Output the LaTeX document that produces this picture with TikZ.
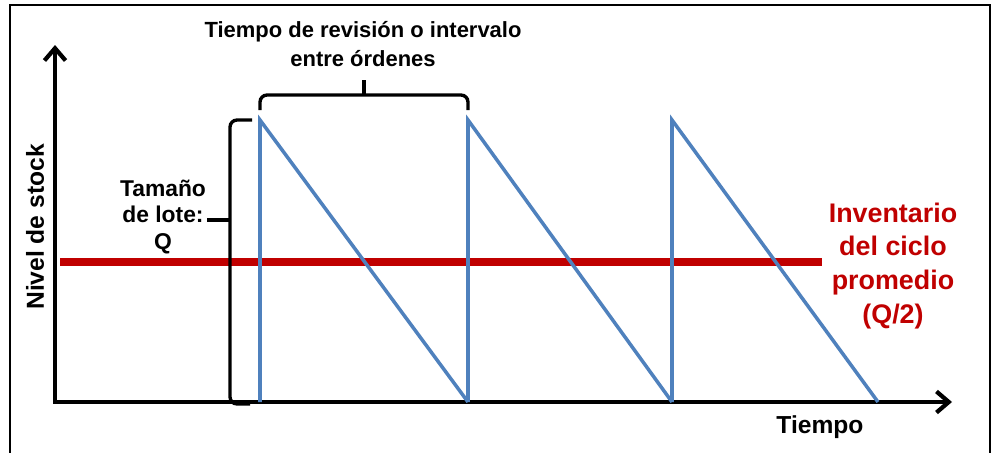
\documentclass[tikz,border=0pt]{standalone}
\usepackage{fontspec}
\setmainfont{Liberation Sans}
\usetikzlibrary{positioning, arrows.meta}
\definecolor{sawblue}{RGB}{79,129,189}
\definecolor{avgred}{RGB}{192,0,0}
\tikzset{
	axis/.style={draw, line width=2.4pt, line join=miter, {Straight Barb[length=7pt,width=12pt]}-{Straight Barb[length=7pt,width=12pt]}},
	saw/.style={draw=sawblue, line width=2pt},
	avgline/.style={draw=avgred, line width=4.5pt},
	bracket/.style={draw, line width=1.9pt, rounded corners=4pt},
	lbl/.style={align=center, inner sep=0pt}
}

\begin{document}
\begin{tikzpicture}[x=0.02cm, y=-0.02cm]
		\useasboundingbox (0,0) rectangle (991,453);
		\draw[line width=0.8pt] (10,460) -- (10,5) -- (990,5) -- (990,460);
		
		% axes
		\coordinate (ytop) at (55,45);
		\coordinate (O) at (55,402);
		\coordinate (xend) at (952,402);
		\draw[axis] (ytop) -- (O) -- (xend);
		
		% average cycle inventory
		\draw[avgline] (60,262) -- (822,262);
		
		% stock level
		\foreach \a/\b in {260/468, 468/672, 672/878}
			\draw[saw] (\a,402) -- (\a,120) -- (\b,402);
		
		% braces
		\draw[bracket] (260,110) -- (260,95) -- (468,95) -- (468,110);
		\draw[bracket] (364,95) -- (364,80);
		\draw[bracket] (252,120) -- (230,120) -- (230,404) -- (250,404);
		\draw[bracket] (230,220) -- (207,220);
		
		% labels
		\node[lbl, font=\bfseries\fontsize{12.5}{16}\selectfont] (revision) at (363,44) {Tiempo de revisión o intervalo\\entre órdenes};
		\node[lbl, font=\bfseries\fontsize{13}{15.3}\selectfont] (lote) at (163,217) {Tamaño\\de lote:\\Q};
		\node[lbl, font=\bfseries\fontsize{14}{16}\selectfont, rotate=90] (nivel) at (35,227) {Nivel de stock};
		\node[lbl, font=\bfseries\fontsize{14}{16}\selectfont] (tiempo) at (820,427) {Tiempo};
		\node[lbl, font=\bfseries\fontsize{15.3}{19.3}\selectfont, text=avgred] (promedio) at (893,266) {Inventario\\del ciclo\\promedio\\(Q/2)};
	\end{tikzpicture}
\end{document}
